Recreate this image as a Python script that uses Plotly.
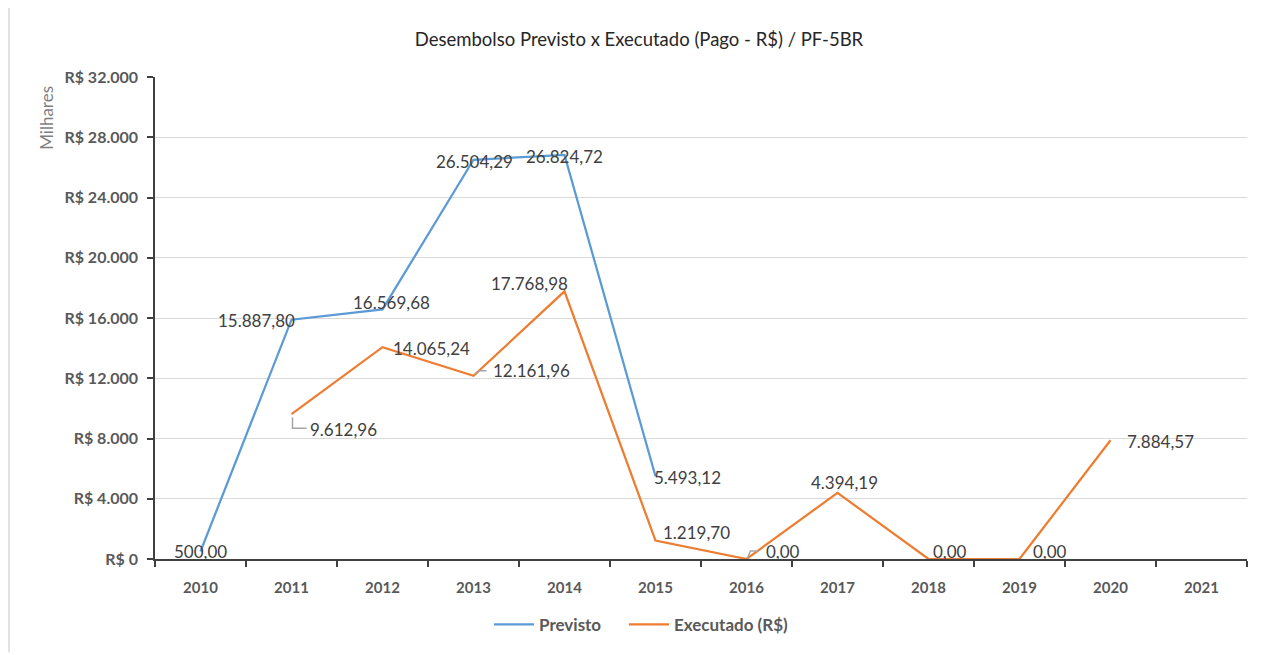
import plotly.graph_objects as go

# ---- data (values in thousands of R$) ----
years = ["2010", "2011", "2012", "2013", "2014", "2015", "2016", "2017", "2018", "2019", "2020", "2021"]
previsto = [500.00, 15887.80, 16569.68, 26504.29, 26824.72, 5493.12, None, None, None, None, None, None]
executado = [None, 9612.96, 14065.24, 12161.96, 17768.98, 1219.70, 0.00, 4394.19, 0.00, 0.00, 7884.57, None]
y_ticks = [0, 4000, 8000, 12000, 16000, 20000, 24000, 28000, 32000]

# ---- label placement styles (pixel offsets: dx right, dy down) ----
prev_off = [(0, 0), (-35, 1), (9, -7), (1, 2), (0, 2), (32, 1)]
exec_off = {1: (52, 15), 2: (49, 1), 3: (58, -5), 4: (-35, -8), 5: (41, -8), 6: (36, -8),
            7: (7, -10), 8: (21, -8), 9: (30, -8), 10: (50, 1)}
# elbow leader lines (pixel paths relative to the point, y up)
leaders = {1: "M 1,-3 L 1,-14 L 15,-14", 3: "M 2,1 L 6,5 L 13,5", 6: "M 1,1 L 4,8 L 12,8"}

BLUE = "#5B9BD5"
ORANGE = "#ED7D31"
FONT = "Lato"

# page offset (body margin) and plot area in screen pixels
OFF = 8
W, H = 1260, 647
L, R, T, B = 155 - OFF, 21, 77 - OFF, 94
PW, PH = W - L - R, H - T - B


def px_x(sx):
    return (sx - OFF - L) / PW


def px_y(sy):
    return (H - B - (sy - OFF)) / PH


def br(v, dec=2):
    s = f"{v:,.{dec}f}"
    return s.replace(",", "X").replace(".", ",").replace("X", ".")


idx = list(range(len(years)))

fig = go.Figure()
fig.add_trace(go.Scatter(x=idx, y=previsto, mode="lines", name="Previsto", legend="legend",
                         line=dict(color=BLUE, width=2.25), connectgaps=False))
fig.add_trace(go.Scatter(x=idx, y=executado, mode="lines", name="Executado (R$)", legend="legend2",
                         line=dict(color=ORANGE, width=2.25), connectgaps=False))

ann = []
shapes = []
lab_font = dict(family=FONT, size=17, color="#404040")
for i, v in enumerate(previsto):
    if v is None:
        continue
    dx, dy = prev_off[i]
    ann.append(dict(x=i, y=v, text=br(v), showarrow=False, xshift=dx, yshift=-dy, font=lab_font))
for i, v in enumerate(executado):
    if v is None:
        continue
    dx, dy = exec_off[i]
    ann.append(dict(x=i, y=v, text=br(v), showarrow=False, xshift=dx, yshift=-dy, font=lab_font))
    if i in leaders:
        shapes.append(dict(type="path", xref="x", yref="y", xsizemode="pixel", ysizemode="pixel",
                           xanchor=i, yanchor=v, path=leaders[i],
                           line=dict(color="#A6A6A6", width=1.5)))

# y axis title "Milhares"
ann.append(dict(xref="paper", yref="paper", x=px_x(47), y=px_y(118), xanchor="center", yanchor="middle",
                text="Milhares", textangle=-90, showarrow=False,
                font=dict(family=FONT, size=17, color="#7F7F7F")))

shapes.append(dict(type="line", xref="paper", yref="paper", x0=px_x(9), x1=px_x(9),
                   y0=px_y(0), y1=px_y(655), line=dict(color="#D9D9D9", width=1.5)))

leg_common = dict(orientation="h", xanchor="left", yanchor="middle", y=px_y(627),
                  font=dict(family=FONT, size=17, color="#595959", weight="bold"), itemwidth=40,
                  bgcolor="rgba(0,0,0,0)")

fig.update_layout(
    width=W, height=H,
    margin=dict(l=L, r=R, t=T, b=B),
    paper_bgcolor="white", plot_bgcolor="white",
    title=dict(text="Desembolso Previsto x Executado (Pago - R$) / PF-5BR", x=px_x(639), xanchor="center",
               xref="paper", y=1 - (40 - OFF) / H, yanchor="middle",
               font=dict(family=FONT, size=18.5, color="#262626")),
    showlegend=True,
    legend=dict(x=px_x(495 - 6), **leg_common),
    legend2=dict(x=px_x(630 - 6), **leg_common),
    annotations=ann,
    shapes=shapes,
)

fig.update_xaxes(range=[-0.5, 11.5], tickvals=idx, ticktext=years,
                 ticks="", showline=True, linecolor="#404040", linewidth=1.5, showgrid=False,
                 zeroline=False, minor=dict(tickvals=[i - 0.5 for i in idx] + [11.5], ticks="outside",
                                            ticklen=6, tickwidth=1.5, tickcolor="#404040", showgrid=False),
                 tickfont=dict(family=FONT, size=15, color="#595959", weight="bold"), ticklabelstandoff=14)
fig.update_yaxes(range=[0, 32000], tickvals=y_ticks, ticktext=["R$ " + br(t, 0) for t in y_ticks],
                 ticks="outside", ticklen=6, tickwidth=1.5, tickcolor="#404040",
                 showline=True, linecolor="#404040", linewidth=1.5, showgrid=True, gridcolor="#D9D9D9",
                 gridwidth=1, zeroline=False,
                 tickfont=dict(family=FONT, size=16, color="#595959", weight="bold"), ticklabelstandoff=6)

fig.write_html("out.html")
